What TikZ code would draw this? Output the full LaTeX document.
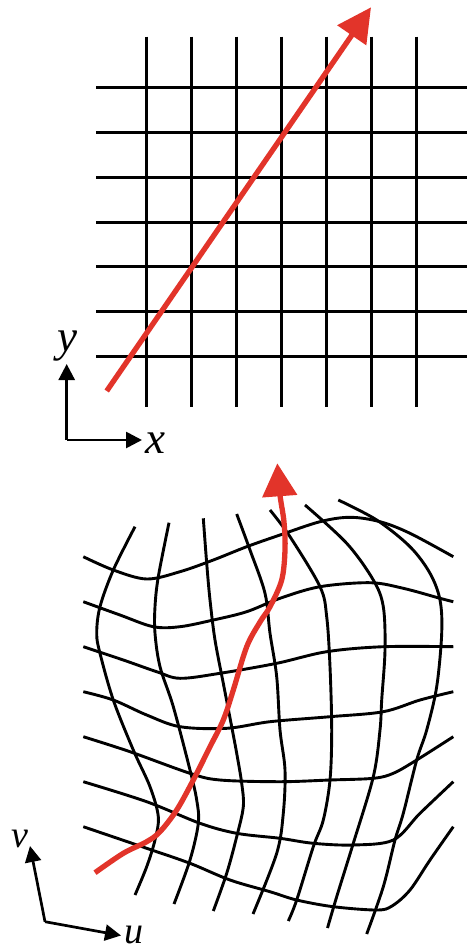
\documentclass[tikz,border=0pt]{standalone}
\usepackage{fontspec}
\setmainfont{Liberation Serif}
\usetikzlibrary{arrows.meta}
\definecolor{arrowred}{RGB}{226,52,42}
\tikzset{
  gridline/.style={line width=3pt, black},
  warpline/.style={line width=2.9pt, black, smooth, tension=0.55},
  redline/.style={line width=5.3pt, arrowred},
  axisline/.style={line width=2.7pt, black, -{Triangle[length=16pt,width=16pt]}},
  biglabel/.style={inner sep=0pt, font=\fontsize{45}{45}\selectfont\itshape},
  smalllabel/.style={inner sep=0pt, font=\fontsize{38}{38}\selectfont\itshape},
}
\begin{document}
\begin{tikzpicture}[x=1pt,y=-1pt]
\path[use as bounding box] (0,0) rectangle (469,950);

% ---------- top regular grid ----------
\foreach \i in {0,...,6} {
  \draw[gridline] ({146.7+45*\i},36.7) -- ({146.7+45*\i},406.7);
  \draw[gridline] (96,{87.3+44.9*\i}) -- (467,{87.3+44.9*\i});
}
\coordinate (rs) at (106.7,391);
\coordinate (rt) at (371,7.3);
\draw[redline, -{Triangle[length=34pt,width=34pt]}] (rs) -- (rt);

% top axes
\coordinate (o1) at (66.7,440);
\coordinate (ya) at (66.7,364);
\coordinate (xa) at (142,440);
\draw[axisline] (o1) -- (ya);
\draw[axisline] (o1) -- (xa);
\node[biglabel] (ylab) at (67.5,346) {y};
\node[biglabel] (xlab) at (155,443) {x};

% ---------- bottom warped grid ----------
% "horizontal" curves
\draw[warpline] plot coordinates {(83.3,556.7) (113.3,570) (146.7,579) (180,571.7) (213.3,560) (246.7,546.7) (280,535) (320,521.7) (350,517.3) (380,521.7) (410,533.3) (453.3,556.7)};
\draw[warpline] plot coordinates {(83.3,601.7) (120,615) (153.3,626.7) (180,626.7) (213.3,620) (246.7,611.7) (280,598.3) (320,586.7) (370,582.7) (403.3,588.3) (440,598.3) (453.3,601.7)};
\draw[warpline] plot coordinates {(83.3,646.7) (123.3,660) (156.7,671.7) (180,678.3) (220,673.3) (276.7,663.3) (326.7,651.7) (383.3,646.7) (453.3,646.7)};
\draw[warpline] plot coordinates {(83.3,691.7) (113.3,700) (146.7,715) (180,726.7) (226.7,728.3) (270,721.7) (330,716.7) (383.3,711.7) (420,700) (453.3,691.7)};
\draw[warpline] plot coordinates {(83.3,736.7) (130,751.7) (190,773.3) (220,780) (280,781.7) (330,780) (373.3,778.3) (393.3,773.3) (416.7,760) (453.3,736.7)};
\draw[warpline] plot coordinates {(83.3,781.7) (146.7,801.7) (200,823.3) (236.7,833.3) (280,838.3) (313.3,843.3) (353.3,845) (393.3,840) (420,813.3) (453.3,781.7)};
\draw[warpline] plot coordinates {(83.3,826.7) (146.7,848.3) (190,863.3) (230,880) (270,891.7) (296.7,900) (333.3,906.7) (376.7,910) (392,906) (410,890) (430,860) (453.3,826.7)};
% "vertical" curves
\draw[warpline] plot coordinates {(135,526.7) (113.3,570) (100,606.7) (96.7,633.3) (100,653.3) (113.3,700) (133.3,750) (150,786.7) (158.3,816.7) (155,840) (146.7,866.7) (135,895)};
\draw[warpline] plot coordinates {(169,522.7) (158.3,576.7) (155,606.7) (155,633.3) (160,666.7) (173.3,706.7) (190,770) (196.7,800) (198.3,823.3) (190,860) (174,904)};
\draw[warpline] plot coordinates {(203.3,518.3) (206.7,563.3) (210,600) (215,640) (223.3,683.3) (231.7,726.7) (236.7,753.3) (241.7,783.3) (243.3,806.7) (236.7,836.7) (226.7,873.3) (213.3,911)};
\draw[warpline] plot coordinates {(236.7,514) (250,550) (265,593.3) (270,633.3) (276.7,676.7) (280,730) (285,770) (283.3,813.3) (276.7,853.3) (253,914)};
\draw[warpline] plot coordinates {(270,510) (290,536.7) (320,586.7) (326.7,616.7) (330,666.7) (331.7,730) (330,780) (323.3,820) (313.3,846.7) (296.7,900) (288.3,921)};
\draw[warpline] plot coordinates {(305,505) (346.7,543.3) (373.3,580) (383.3,606.7) (385,650) (381.7,700) (380,730) (373.3,776.7) (353.3,843.3) (336.7,896.7) (327.5,928)};
\draw[warpline] plot coordinates {(338.3,500) (376.7,520) (410,546.7) (430,573.3) (440,600) (441.7,633.3) (436.7,686.7) (426.7,730) (416.7,760) (403.3,813.3) (395,840) (383.3,886.7) (366.7,934)};

% red path in warped grid
\draw[redline, smooth, tension=0.55, -{Triangle[length=33pt,width=34pt]}] plot coordinates {(95,872.7) (123.3,853.3) (146.7,841.7) (160,831.7) (176.7,810) (193.3,780) (210,746.7) (223.3,720) (233.3,690) (246.7,646.7) (260,622) (270,606.7) (281.7,580) (285,550) (284,522) (280,495) (277.3,463.3)};

% bottom axes
\coordinate (o2) at (45,921.7);
\coordinate (va) at (30,846);
\coordinate (ua) at (121,935.5);
\draw[axisline] (o2) -- (va);
\draw[axisline] (o2) -- (ua);
\node[smalllabel] (vlab) at (20,839) {v};
\node[smalllabel] (ulab) at (134,935) {u};
\end{tikzpicture}
\end{document}
